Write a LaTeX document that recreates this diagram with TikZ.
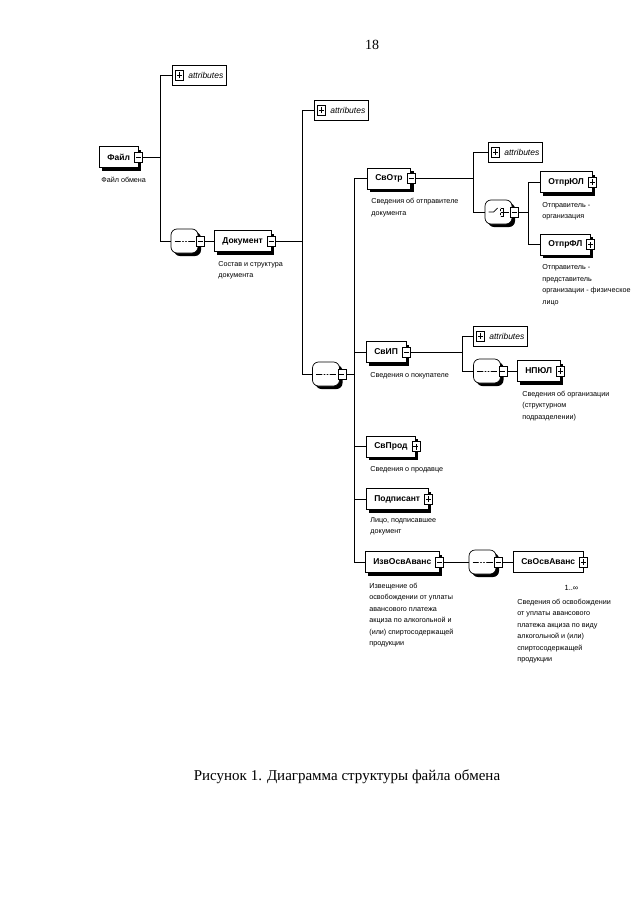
\documentclass[tikz,border=0pt]{standalone}
\usepackage{fontspec}
\setmainfont{Liberation Sans}
\newfontfamily\capfont{Liberation Serif}
\usetikzlibrary{
    positioning,
    shadows,
    fit,
    backgrounds
}

\begin{document}
\begin{tikzpicture}[
    x=1pt, y=1pt,
    line width=0.7pt,
    box/.style={draw, fill=white, anchor=west, minimum height=21, inner xsep=8pt, inner ysep=0pt, font=\fontsize{8.5}{10}\selectfont\bfseries},
    elem/.style={box, drop shadow={shadow xshift=3pt, shadow yshift=-3pt, fill=black, opacity=1}},
    attr/.style={draw, fill=white, anchor=west, minimum height=20, inner xsep=3pt, inner ysep=0pt, font=\fontsize{8.5}{10}\selectfont\itshape},
    comp/.style={rectangle, rounded corners=6pt, draw, fill=white, minimum width=27, minimum height=24, inner sep=0pt,
        drop shadow={shadow xshift=3pt, shadow yshift=-3pt, fill=black, opacity=1}},
    seq/.style={comp, path picture={
        \draw[sharp corners] ([xshift=-10pt]path picture bounding box.center) -- ([xshift=10pt]path picture bounding box.center);
        \foreach \d in {-3,0,3} \fill ([xshift=\d pt]path picture bounding box.center) circle (1.2pt);}},
    choice/.style={comp, path picture={
        \draw[sharp corners] ([xshift=-10pt]path picture bounding box.center) -- ++(5,0) -- ++(4,4);
        \draw[sharp corners] ([xshift=2pt,yshift=-5pt]path picture bounding box.center) -- ++(0,10);
        \foreach \d in {-4,0,4} {
            \fill ([xshift=2pt,yshift=\d pt]path picture bounding box.center) circle (1pt);
            \draw[sharp corners] ([xshift=2pt,yshift=\d pt]path picture bounding box.center) -- ++(3,0);}
        \draw[sharp corners] ([xshift=5pt,yshift=-4pt]path picture bounding box.center) -- ++(0,8);
        \draw[sharp corners] ([xshift=5pt]path picture bounding box.center) -- ++(5,0);}},
    tog/.style={draw, fill=white, minimum width=8, minimum height=10, inner sep=0pt, line width=0.6pt},
    tminus/.style={tog, path picture={\draw ([xshift=-2.5pt]path picture bounding box.center) -- ++(5,0);}},
    tplus/.style={tog, path picture={\draw ([xshift=-2.5pt]path picture bounding box.center) -- ++(5,0);
        \draw ([yshift=-3pt]path picture bounding box.center) -- ++(0,6);}},
    desc/.style={inner sep=0pt, align=left, font=\fontsize{7.2}{11.5}\selectfont}
]

    \path[use as bounding box, fill=white] (0,0) rectangle (640,-905);

    % Page number and caption
    \node[font=\capfont\fontsize{14}{16}\selectfont] (pageno) at (372,-45) {18};
    \node[font=\capfont\fontsize{15}{18}\selectfont] (caption) at (347,-777) {Рисунок 1. Диаграмма структуры файла обмена};

    % Elements
    \node[elem] (file) at (99,-157) {Файл};
    \node[elem] (doc) at (214,-241) {Документ};
    \node[elem] (svotp) at (367,-178.5) {СвОтр};
    \node[elem] (otpyul) at (540,-182) {ОтпрЮЛ};
    \node[elem] (otpfl) at (540,-244.5) {ОтпрФЛ};
    \node[elem] (svip) at (366,-352) {СвИП};
    \node[elem] (npyul) at (517,-371) {НПЮЛ};
    \node[elem] (svprod) at (366,-446.5) {СвПрод};
    \node[elem] (podp) at (366,-499) {Подписант};
    \node[elem] (izv) at (365,-562) {ИзвОсвАванс};
    \node[box] (svosv) at (513,-562) {СвОсвАванс};
    \begin{scope}[on background layer]
        \node[elem, anchor=center, fit=(svosv), inner sep=0pt, xshift=3pt, yshift=-3pt] (svosvB) {};
    \end{scope}
    \node[below left=9pt and 8pt of svosvB.south east, inner sep=0pt, font=\fontsize{7.5}{9}\selectfont] (svosvN) {1..∞};

    % Attributes
    \node[attr] (attr1) at (172,-75) {\hspace{13pt}attributes};
    \node[attr] (attr2) at (314,-110) {\hspace{13pt}attributes};
    \node[attr] (attr3) at (488,-152) {\hspace{13pt}attributes};
    \node[attr] (attr4) at (473,-336) {\hspace{13pt}attributes};
    \foreach \a in {attr1,attr2,attr3,attr4}
        \node[tplus, anchor=west] (\a P) at ([xshift=3pt]\a.west) {};

    % Compositors
    \node[seq] (seq1) at (184.5,-241) {};
    \node[seq] (seq2) at (326,-374) {};
    \node[choice] (choice) at (498.5,-212) {};
    \node[seq] (seq3) at (487,-371) {};
    \node[seq] (seq4) at (482.5,-562) {};

    % Toggles
    \foreach \n in {file,doc,svotp,svip,izv}
        \node[tminus] (\n T) at (\n.east) {};
    \foreach \n in {otpyul,otpfl,npyul,svprod,podp,svosv}
        \node[tplus] (\n T) at (\n.east) {};
    \foreach \n in {seq1,seq2,choice,seq3,seq4}
        \node[tminus] (\n T) at ([xshift=2pt]\n.east) {};

    % Descriptions
    \node[desc, below right=9pt and 2pt of file.south west] (fileD) {Файл обмена};
    \node[desc, below right=9pt and 4pt of doc.south west] (docD) {Состав и структура\\документа};
    \node[desc, below right=9pt and 4pt of svotp.south west] (svotpD) {Сведения об отправителе\\документа};
    \node[desc, below right=9pt and 2pt of otpyul.south west] (otpyulD) {Отправитель -\\организация};
    \node[desc, below right=9pt and 2pt of otpfl.south west] (otpflD) {Отправитель -\\представитель\\организации - физическое\\лицо};
    \node[desc, below right=9pt and 4pt of svip.south west] (svipD) {Сведения о покупателе};
    \node[desc, below right=9pt and 5pt of npyul.south west] (npyulD) {Сведения об организации\\(структурном\\подразделении)};
    \node[desc, below right=9pt and 4pt of svprod.south west] (svprodD) {Сведения о продавце};
    \node[desc, below right=7pt and 4pt of podp.south west] (podpD) {Лицо, подписавшее\\документ};
    \node[desc, below right=10pt and 4pt of izv.south west] (izvD) {Извещение об\\освобождении от уплаты\\авансового платежа\\акциза по алкогольной и\\(или) спиртосодержащей\\продукции};
    \node[desc, below right=26pt and 4pt of svosv.south west] (svosvD) {Сведения об освобождении\\от уплаты авансового\\платежа акциза по виду\\алкогольной и (или)\\спиртосодержащей\\продукции};

    % Junctions
    \coordinate (j1) at (160,-157);
    \coordinate (j2) at (302,-241);
    \coordinate (j3) at (354,-374);
    \coordinate (j4) at (473,-178.5);
    \coordinate (j5) at (528,-212);
    \coordinate (j6) at (462,-352);

    % Connectors
    \draw (fileT.east) -- (j1);
    \draw (j1) |- (attr1.west);
    \draw (j1) |- (seq1.west);
    \draw (seq1T.east) -- (doc.west);
    \draw (docT.east) -- (j2);
    \draw (j2) |- (attr2.west);
    \draw (j2) |- (seq2.west);
    \draw (seq2T.east) -- (j3);
    \foreach \n in {svotp,svip,svprod,podp,izv}
        \draw (j3) |- (\n.west);
    \draw (svotpT.east) -- (j4);
    \draw (j4) |- (attr3.west);
    \draw (j4) |- (choice.west);
    \draw (choiceT.east) -- (j5);
    \draw (j5) |- (otpyul.west);
    \draw (j5) |- (otpfl.west);
    \draw (svipT.east) -- (j6);
    \draw (j6) |- (attr4.west);
    \draw (j6) |- (seq3.west);
    \draw (seq3T.east) -- (npyul.west);
    \draw (izvT.east) -- (seq4.west);
    \draw (seq4T.east) -- (svosv.west);

\end{tikzpicture}
\end{document}
